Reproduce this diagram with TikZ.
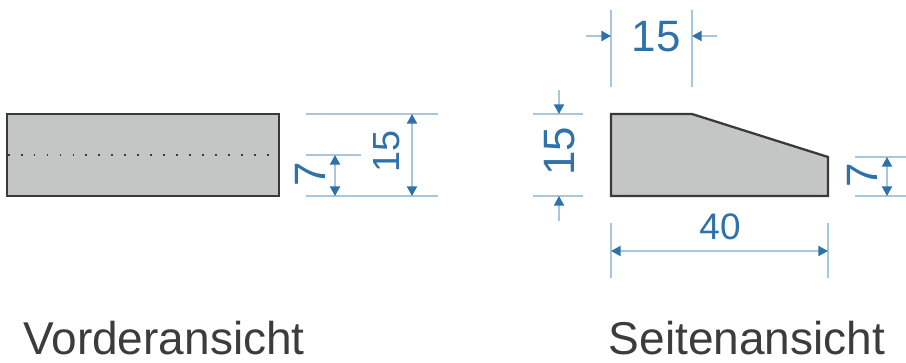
\documentclass[tikz,border=0pt]{standalone}
\usepackage{fontspec}
\setmainfont{Liberation Sans}
\usetikzlibrary{arrows.meta}
\definecolor{dimblue}{HTML}{2F71A9}
\definecolor{extblue}{HTML}{A9C6DF}
\definecolor{partgray}{HTML}{C4C6C5}
\definecolor{partedge}{HTML}{3A3A3A}
\definecolor{captiongray}{HTML}{3C3C3C}
\tikzset{
	part/.style={draw=partedge, fill=partgray, line width=1.3pt, line join=miter},
	extline/.style={draw=extblue, line width=0.8pt},
	dimline/.style={draw=extblue, line width=0.8pt},
	both/.style={dimline, {Triangle[length=5.5pt,width=5.8pt,color=dimblue]}-{Triangle[length=5.5pt,width=5.8pt,color=dimblue]}},
	single/.style={dimline, -{Triangle[length=5.5pt,width=5.8pt,color=dimblue]}},
	dimtext/.style={text=dimblue, font=\fontsize{25}{25}\selectfont, inner sep=0pt},
	caption/.style={text=captiongray, font=\fontsize{26.2}{26.2}\selectfont, inner sep=0pt},
}
\begin{document}
\begin{tikzpicture}[x=0.02cm, y=-0.02cm]
	\useasboundingbox (0,0) rectangle (906,362);
	% Vorderansicht
	\draw[part] (7,114) rectangle (279,196);
	\draw[partedge, line width=1pt, dash pattern=on 1pt off 6.37pt] (7.8,155.3) -- (279,155.3);
	\draw[extline] (306,114) -- (438,114);
	\draw[extline] (306,196) -- (438,196);
	\draw[extline] (306,155) -- (361,155);
	\draw[both] (335,155) -- (335,196);
	\draw[both] (412,114) -- (412,196);
	\node[dimtext, rotate=90] (frontseven) at (310,174) {7};
	\node[dimtext, font=\fontsize{21.5}{21.5}\selectfont, rotate=90] (frontfifteen) at (387,151) {15};
	\node[caption] (frontcaption) at (164,338) {Vorderansicht};
	% Seitenansicht
	\draw[part] (611,114) -- (692,114) -- (828,157) -- (828,196) -- (611,196) -- cycle;
	\draw[extline] (611,10) -- (611,87);
	\draw[extline] (692,10) -- (692,87);
	\draw[single] (586,36) -- (611,36);
	\draw[single] (717,36) -- (692,36);
	\node[dimtext] (topfifteen) at (656,37) {15};
	\draw[extline] (533,114) -- (583,114);
	\draw[extline] (533,196) -- (583,196);
	\draw[single] (559,90) -- (559,114);
	\draw[single] (559,221) -- (559,196);
	\node[dimtext, rotate=90] (leftfifteen) at (560,151) {15};
	\draw[extline] (855,157) -- (906,157);
	\draw[extline] (855,196) -- (906,196);
	\draw[both] (887,157) -- (887,196);
	\node[dimtext, rotate=90] (sideseven) at (862,175) {7};
	\draw[extline] (611,223) -- (611,278);
	\draw[extline] (828,223) -- (828,278);
	\draw[both] (611,251) -- (828,251);
	\node[dimtext, font=\fontsize{21}{21}\selectfont] (bottomforty) at (720,227) {40};
	\node[caption] (sidecaption) at (747,338) {Seitenansicht};
\end{tikzpicture}
\end{document}
